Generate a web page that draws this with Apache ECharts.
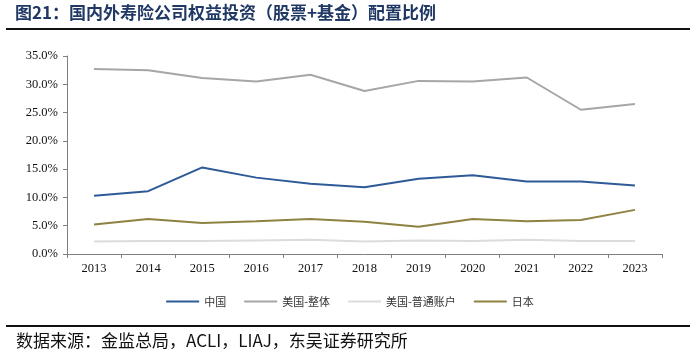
<!DOCTYPE html>
<html lang="zh">
<head>
    <meta charset="UTF-8">
    <title>国内外寿险公司权益投资配置比例</title>
    <script src="https://cdn.jsdelivr.net/npm/echarts@6/dist/echarts.min.js"></script>
    <style>
        html, body { margin: 0; padding: 0; background: #fff; }
    </style>
</head>
<body>
<div id="main" style="width:700px;height:353px;"></div>
<script>
    // 年份
    var years = ['2013', '2014', '2015', '2016', '2017', '2018', '2019', '2020', '2021', '2022', '2023'];
    // 权益投资占比（%）
    var china = [10.3, 11.1, 15.3, 13.5, 12.4, 11.8, 13.3, 13.9, 12.8, 12.8, 12.1];
    var usTotal = [32.7, 32.5, 31.1, 30.5, 31.7, 28.8, 30.6, 30.5, 31.2, 25.5, 26.5];
    var usGeneral = [2.2, 2.3, 2.3, 2.4, 2.5, 2.2, 2.4, 2.3, 2.5, 2.3, 2.3];
    var japan = [5.2, 6.2, 5.5, 5.8, 6.2, 5.7, 4.8, 6.2, 5.8, 6.0, 7.8];

    var seriesNames = ['中国', '美国-整体', '美国-普通账户', '日本'];
    var seriesColors = ['#2E5A97', '#A6A6A6', '#DCDCDC', '#8E8243'];

    var serif = '"Liberation Serif", "Times New Roman", serif';
    var cjk = '"Noto Sans CJK SC", sans-serif';

    var chart = echarts.init(document.getElementById('main'));

    function makeLine(name, data, color) {
        return {
            name: name,
            type: 'line',
            data: data,
            symbol: 'none',
            lineStyle: { color: color, width: 2 },
            itemStyle: { color: color }
        };
    }

    var option = {
        animation: false,
        title: {
            text: '图21：国内外寿险公司权益投资（股票+基金）配置比例',
            left: 15,
            top: 4,
            padding: 0,
            textStyle: {
                fontFamily: cjk,
                fontSize: 17,
                fontWeight: 'bold',
                color: '#1F3864'
            }
        },
        graphic: [
            { type: 'rect', shape: { x: 6, y: 28, width: 684, height: 2 }, style: { fill: '#111' } },
            { type: 'rect', shape: { x: 6, y: 325, width: 684, height: 2 }, style: { fill: '#111' } },
            {
                type: 'text', left: 16, top: 332,
                style: { text: '数据来源：金监总局，ACLI，LIAJ，东吴证券研究所', fontFamily: cjk, fontSize: 17, fill: '#111' }
            }
        ],
        legend: {
            data: seriesNames,
            left: 'center',
            top: 291,
            icon: 'rect',
            itemWidth: 33,
            itemHeight: 2,
            itemGap: 18,
            textStyle: { fontFamily: cjk, fontSize: 11, color: '#333' }
        },
        grid: {
            left: 67,
            right: 38,
            top: 56,
            bottom: 99,
            containLabel: false
        },
        xAxis: {
            type: 'category',
            data: years,
            boundaryGap: true,
            axisLine: { lineStyle: { color: '#7F7F7F', width: 1 } },
            axisTick: { show: true, length: 4, lineStyle: { color: '#7F7F7F' } },
            axisLabel: { fontFamily: serif, fontSize: 12.5, color: '#111', margin: 8 }
        },
        yAxis: {
            type: 'value',
            min: 0,
            max: 35,
            interval: 5,
            splitLine: { show: false },
            axisLine: { show: true, lineStyle: { color: '#7F7F7F', width: 1 } },
            axisTick: { show: true, length: 4, lineStyle: { color: '#7F7F7F' } },
            axisLabel: {
                fontFamily: serif, fontSize: 12.5, color: '#111', margin: 9,
                formatter: function (v) { return v.toFixed(1) + '%'; }
            }
        },
        series: [
            makeLine(seriesNames[0], china, seriesColors[0]),
            makeLine(seriesNames[1], usTotal, seriesColors[1]),
            makeLine(seriesNames[2], usGeneral, seriesColors[2]),
            makeLine(seriesNames[3], japan, seriesColors[3])
        ]
    };

    chart.setOption(option);
</script>
</body>
</html>
